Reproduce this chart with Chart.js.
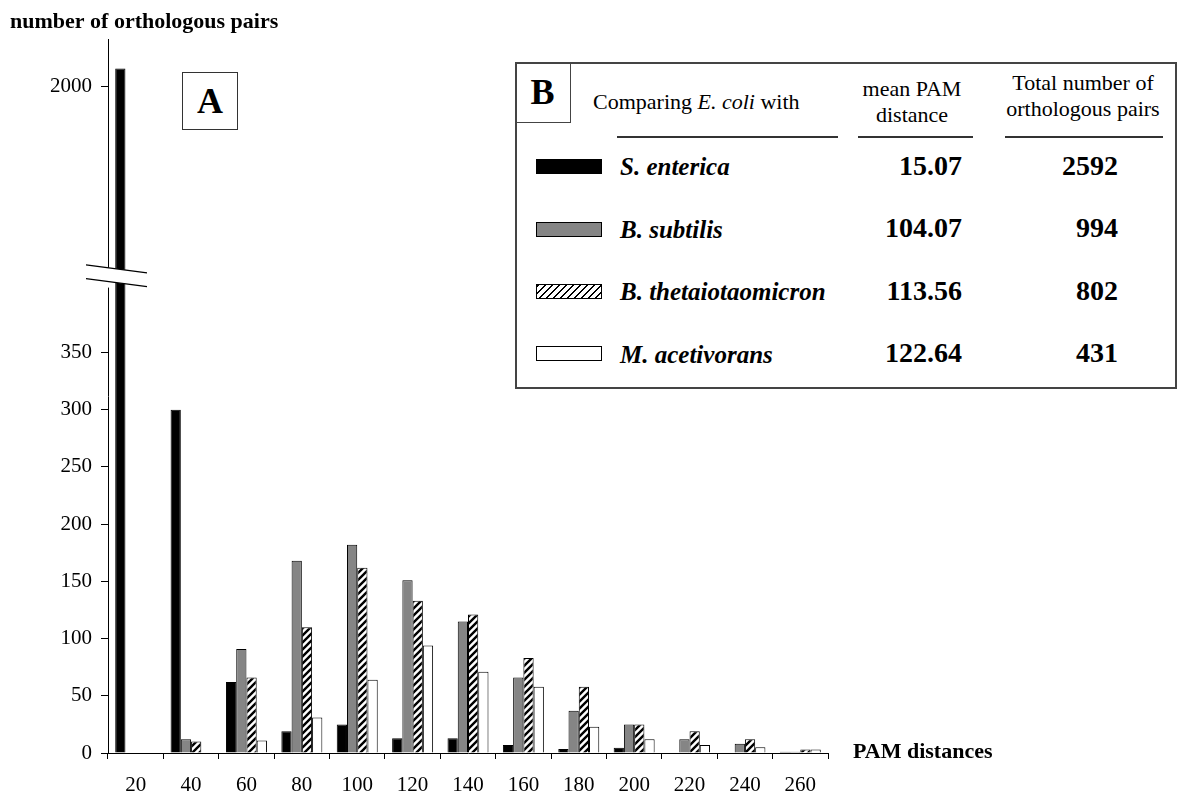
<!DOCTYPE html>
<html>
<head>
<meta charset="utf-8">
<title>Orthologous pairs by PAM distance</title>
<script src="https://cdn.jsdelivr.net/npm/chart.js@4.4.1/dist/chart.umd.min.js"></script>
<style>
  body { margin: 0; background: #fff; }
  #wrap { position: relative; width: 1179px; height: 794px; font-family: 'Liberation Serif', 'Times New Roman', serif; color: #000; }
  #chart { position: absolute; left: 0; top: 0; }
  .abs { position: absolute; white-space: nowrap; }
  #boxA { left: 182px; top: 72px; width: 56px; height: 58px; border: 1.5px solid #333; box-sizing: border-box;
          display: flex; align-items: center; justify-content: center; font-size: 36px; font-weight: bold; background: #fff; }
  #boxB { left: 515px; top: 62px; width: 662px; height: 327px; border: 2px solid #444; box-sizing: border-box; background: #fff; }
  #cellB { left: 515px; top: 62px; width: 56px; height: 61px; border-right: 1.5px solid #444; border-bottom: 1.5px solid #444;
           box-sizing: border-box; display: flex; align-items: center; justify-content: center; font-size: 36px; font-weight: bold; }
  .head { font-size: 22px; line-height: 26px; }
  .rule { height: 1.5px; background: #333; }
  .swatch { width: 66px; height: 15px; border: 1px solid #000; box-sizing: border-box; }
  .label { font-size: 25px; line-height: 25px; font-weight: bold; font-style: italic; }
  .num { font-size: 28px; line-height: 28px; font-weight: bold; text-align: right; }
</style>
</head>
<body>
<div id="wrap">
  <canvas id="chart" width="1179" height="794"></canvas>
  <div id="boxA" class="abs">A</div>
  <div id="boxB" class="abs"></div>
  <div id="cellB" class="abs">B</div>
  <div class="abs head" style="left:593px; top:89px;">Comparing <i>E. coli</i> with</div>
  <div class="abs head" style="left:842px; top:76px; width:140px; text-align:center;">mean PAM<br>distance</div>
  <div class="abs head" style="left:993px; top:70px; width:180px; text-align:center;">Total number of<br>orthologous pairs</div>
  <div class="abs rule" style="left:617px; top:136px; width:221px;"></div>
  <div class="abs rule" style="left:858px; top:136px; width:115px;"></div>
  <div class="abs rule" style="left:1005px; top:136px; width:158px;"></div>
</div>
<script>
// PAM distance bins on the x axis
const pamBins = ['20', '40', '60', '80', '100', '120', '140', '160', '180', '200', '220', '240', '260'];

// number of orthologous pairs per bin, E. coli compared with ...
const sEnterica = [2138, 300, 62, 19, 25, 13, 13, 7, 3.5, 4.5, 0, 0, 1];
const bSubtilis = [0, 12, 91, 168, 182, 151, 115, 66, 37, 25, 12, 8, 1];
const bThetaiotaomicron = [0, 10, 66, 110, 162, 133, 121, 83, 58, 25, 19, 12, 3];
const mAcetivorans = [0, 0, 11, 31, 64, 94, 71, 58, 23, 12, 7, 5, 3];

const yTicks = [0, 50, 100, 150, 200, 250, 300, 350, 2000];

// box B table
const species = ['S. enterica', 'B. subtilis', 'B. thetaiotaomicron', 'M. acetivorans'];
const meanPam = ['15.07', '104.07', '113.56', '122.64'];
const totalPairs = ['2592', '994', '802', '431'];

// broken y axis: 0..412 in the lower part, 584..2365 squeezed in the upper part
const lowTop = 412, highBottom = 584, yMax = 2365;
const lowFrac = 0.6606, highFrac = 0.680;

const serif = 'Liberation Serif';

// hatch pattern for B. thetaiotaomicron
function makeHatch() {
  const c = document.createElement('canvas');
  const s = 7;
  c.width = s; c.height = s;
  const g = c.getContext('2d');
  g.fillStyle = '#fff';
  g.fillRect(0, 0, s, s);
  g.strokeStyle = '#000';
  g.lineWidth = 2.4;
  g.beginPath();
  g.moveTo(-1, s + 1); g.lineTo(s + 1, -1);
  g.moveTo(-1, 1); g.lineTo(1, -1);
  g.moveTo(s - 1, s + 1); g.lineTo(s + 1, s - 1);
  g.stroke();
  return g.createPattern(c, 'repeat');
}

class BrokenLinearScale extends Chart.LinearScale {
  static id = 'brokenLinear';
  buildTicks() {
    return yTicks.map(v => ({ value: v }));
  }
  valueToFrac(v) {
    if (v <= lowTop) return v / lowTop * lowFrac;
    if (v < highBottom) return lowFrac + (v - lowTop) / (highBottom - lowTop) * (highFrac - lowFrac);
    return highFrac + (v - highBottom) / (yMax - highBottom) * (1 - highFrac);
  }
  getPixelForValue(v) {
    if (v === null || v === undefined || isNaN(v)) return NaN;
    return this.bottom - this.valueToFrac(v) * (this.bottom - this.top);
  }
  getValueForPixel(px) {
    const f = (this.bottom - px) / (this.bottom - this.top);
    if (f <= lowFrac) return f / lowFrac * lowTop;
    if (f < highFrac) return lowTop + (f - lowFrac) / (highFrac - lowFrac) * (highBottom - lowTop);
    return highBottom + (f - highFrac) / (1 - highFrac) * (yMax - highBottom);
  }
}
Chart.register(BrokenLinearScale);

// white gap with two slanted strokes across the axis + the x axis name
const axisBreak = {
  id: 'axisBreak',
  afterDraw(chart) {
    const { ctx, chartArea, scales: { y } } = chart;
    const x0 = chartArea.left;
    const yA = y.getPixelForValue(highBottom);
    const yB = y.getPixelForValue(lowTop);
    const slope = 8 / 61;
    const l = x0 - 22, r = x0 + 39;
    const at = (base, xx) => base + (xx - x0) * slope;
    ctx.save();
    ctx.fillStyle = '#fff';
    ctx.beginPath();
    ctx.moveTo(l, at(yA, l));
    ctx.lineTo(r, at(yA, r));
    ctx.lineTo(r, at(yB, r));
    ctx.lineTo(l, at(yB, l));
    ctx.closePath();
    ctx.fill();
    ctx.fillRect(x0 - 2, yB, 3, 6);
    ctx.strokeStyle = '#000';
    ctx.lineWidth = 1.3;
    ctx.beginPath();
    ctx.moveTo(l, at(yA, l)); ctx.lineTo(r, at(yA, r));
    ctx.moveTo(l, at(yB, l)); ctx.lineTo(r, at(yB, r));
    ctx.stroke();

    ctx.fillStyle = '#000';
    ctx.font = 'bold 22px "' + serif + '"';
    ctx.textBaseline = 'middle';
    ctx.textAlign = 'left';
    ctx.fillText('PAM distances', chartArea.right + 25, y.getPixelForValue(0) - 1);
    ctx.restore();
  }
};

const barBase = { borderColor: '#000', borderWidth: 1, barPercentage: 1, categoryPercentage: 0.74 };

new Chart(document.getElementById('chart'), {
  type: 'bar',
  data: {
    labels: pamBins,
    datasets: [
      { ...barBase, label: species[0], data: sEnterica, backgroundColor: '#000' },
      { ...barBase, label: species[1], data: bSubtilis, backgroundColor: '#858585' },
      { ...barBase, label: species[2], data: bThetaiotaomicron, backgroundColor: makeHatch() },
      { ...barBase, label: species[3], data: mAcetivorans, backgroundColor: '#fff' }
    ]
  },
  options: {
    responsive: false,
    animation: false,
    events: [],
    layout: { padding: { left: 10, right: 351, top: 0, bottom: 0 } },
    plugins: {
      legend: { display: false },
      tooltip: { enabled: false },
      title: {
        display: true,
        text: 'number of orthologous pairs',
        align: 'start',
        color: '#000',
        font: { family: serif, size: 22, weight: 'bold' },
        padding: { top: 9, bottom: 4 }
      }
    },
    scales: {
      x: {
        offset: true,
        grid: { offset: true, drawOnChartArea: false, tickLength: 6, color: '#000' },
        border: { color: '#000', width: 1 },
        ticks: { color: '#000', font: { family: serif, size: 21 }, padding: 14, maxRotation: 0 },
        afterFit(s) { s.height = 41; }
      },
      y: {
        type: 'brokenLinear',
        min: 0,
        max: yMax,
        grid: { drawOnChartArea: false, tickLength: 7, color: '#000' },
        border: { color: '#000', width: 1 },
        ticks: { color: '#000', font: { family: serif, size: 21 }, padding: 9, autoSkip: false, callback: v => String(v) },
        afterFit(s) { s.width = 98; }
      }
    }
  },
  plugins: [axisBreak]
});

// rows of box B
const wrap = document.getElementById('wrap');
const swatchBg = ['#000', '#858585',
  'repeating-linear-gradient(135deg, #000 0 1.6px, #fff 1.6px 4.95px)', '#fff'];
species.forEach((name, i) => {
  const base = 175.2 + i * 62.4;
  const sw = document.createElement('div');
  sw.className = 'abs swatch';
  sw.style.left = '536px';
  sw.style.top = (base - 16) + 'px';
  sw.style.background = swatchBg[i];
  wrap.appendChild(sw);

  const lab = document.createElement('div');
  lab.className = 'abs label';
  lab.style.left = '620px';
  lab.style.top = (base - 20.9) + 'px';
  lab.textContent = name;
  wrap.appendChild(lab);

  const m = document.createElement('div');
  m.className = 'abs num';
  m.style.left = '842px';
  m.style.width = '120px';
  m.style.top = (base - 23.4) + 'px';
  m.textContent = meanPam[i];
  wrap.appendChild(m);

  const t = document.createElement('div');
  t.className = 'abs num';
  t.style.left = '998px';
  t.style.width = '120px';
  t.style.top = (base - 23.4) + 'px';
  t.textContent = totalPairs[i];
  wrap.appendChild(t);
});
</script>
</body>
</html>
